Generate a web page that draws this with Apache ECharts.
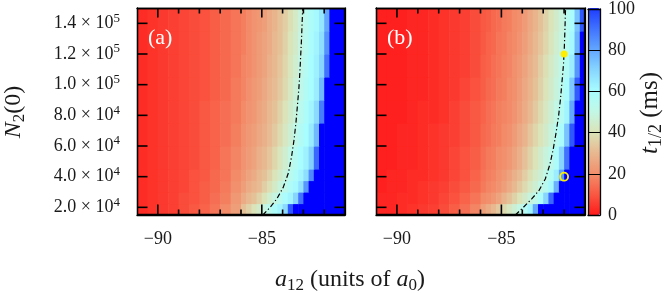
<!DOCTYPE html>
<html><head><meta charset="utf-8">
<script src="https://cdn.jsdelivr.net/npm/echarts@6/dist/echarts.min.js"></script>
<style>html,body{margin:0;padding:0;background:#fff}#c{width:664px;height:293px}</style>
</head><body><div id="c"></div>
<script>
// ---- data ----
const xRange = [-91, -81];
const yRange = [15000, 150000];
const colEdges = [-91,-90.5,-90,-89.5,-89,-88.5,-88,-87.5,-87,-86.5,-86,
  -85.75,-85.5,-85.25,-85,-84.75,-84.5,-84.25,-84,-83.75,-83.5,-83.25,-83,-82.75,-82.5,-82.25,-82,-81.75,-81.5,-81.25,-81];
const rowEdges = [15000,22500,30000,37500,45000,60000,75000,90000,105000,120000,135000,150000];
// t1/2 (ms), rows from bottom to top; >100 shown as saturated blue
const tHalfA = [
  [3,4,5,6,8,10,12,15,19,24, 32,36,40,44,49,53,58,62,69,95, 120,120,120,120,120,120,120,120,120,120],
  [3,4,5,6,8,9,11,14,17,22, 27,30,32,36,40,45,49,54,59,62, 70,90,120,120,120,120,120,120,120,120],
  [3,4,5,6,7,9,11,13,16,20, 24,27,29,31,35,39,43,48,52,57, 61,67,83,110,120,120,120,120,120,120],
  [3,4,5,6,7,9,10,13,15,19, 22,25,27,30,32,36,40,44,48,53, 58,62,68,86,112,120,120,120,120,120],
  [3,4,5,6,7,8,10,12,15,18, 21,23,25,28,30,33,37,41,45,50, 55,60,63,71,92,120,120,120,120,120],
  [3,4,5,6,7,8,10,12,14,17, 20,22,24,26,28,31,34,38,42,46, 51,56,60,65,76,100,120,120,120,120],
  [3,4,5,6,7,8,10,12,14,16, 19,21,22,25,27,30,32,36,40,44, 48,53,58,62,69,88,116,120,120,120],
  [3,4,5,6,7,8,9,11,13,16, 18,20,22,24,26,29,31,34,38,42, 47,51,56,60,64,76,100,120,120,120],
  [3,4,5,6,7,8,9,11,13,15, 18,19,21,23,25,28,30,33,37,41, 45,50,55,60,63,70,90,115,120,120],
  [3,4,5,6,7,8,9,11,13,15, 17,19,21,23,25,27,30,32,36,40, 44,49,54,59,62,68,84,108,120,120],
  [3,4,5,6,7,8,9,11,13,15, 17,19,21,22,24,27,29,32,35,39, 43,48,53,58,61,66,80,100,120,120]
];
const tHalfB = [
  [2,2,3,4,5,6,8,11,14,18, 24,27,30,34,38,42,46,50,55,62, 80,105,120,120,120,120,120,120,120,120],
  [2,2,3,3,4,5,7,9,12,15, 19,20,22,25,29,32,36,40,44,48, 52,58,70,92,112,120,120,120,120,120],
  [1,2,2,3,4,5,6,8,10,13, 16,18,19,21,24,27,30,34,38,42, 46,50,54,61,78,103,120,120,120,120],
  [1,2,2,3,3,4,5,7,9,12, 15,17,18,20,22,25,28,31,35,39, 43,46,51,56,64,82,106,120,120,120],
  [1,1,2,2,3,4,5,7,9,11, 14,16,17,19,20,22,25,28,32,36, 40,44,48,52,58,70,90,110,120,120],
  [1,1,2,2,3,4,5,6,8,10, 13,14,16,17,19,20,23,26,29,33, 37,40,44,48,53,59,74,95,112,120],
  [1,1,1,2,3,3,4,6,8,10, 12,14,15,17,18,19,21,24,27,30, 34,38,42,46,50,55,62,80,105,120],
  [1,1,1,2,2,3,4,5,7,9, 11,13,14,16,17,19,20,23,26,29, 32,36,40,44,48,53,59,73,94,112],
  [1,1,1,2,2,3,4,5,6,8, 11,12,14,15,17,18,20,22,25,28, 31,35,39,43,47,51,56,64,83,104],
  [1,1,1,2,2,3,4,5,6,8, 10,12,13,15,16,18,19,21,24,27, 30,33,37,41,45,49,54,61,77,100],
  [1,1,1,2,2,3,4,5,6,8, 10,11,13,14,16,17,19,20,23,26, 29,32,36,40,44,48,53,59,74,95]
];
const contourAX = [-84.95,-84.6,-84.28,-83.97,-83.72,-83.57,-83.45,-83.36,-83.29,-83.22,-83.17,-83.13,-83.09,-83.06,-83.03];
const contourAN = [15000,20000,25500,33000,42500,53000,64000,75000,86000,97000,108000,119000,130000,141000,150000];
const contourBX = [-84.33,-83.95,-83.55,-83.2,-82.9,-82.68,-82.52,-82.38,-82.26,-82.17,-82.1,-82.03,-81.99,-81.96,-81.93];
const contourBN = [15000,20000,25500,31000,38500,48000,58000,69000,80000,91000,102000,113000,124000,136000,150000];
const markFilled = [-82, 120000];
const markOpen = [-82, 40000];
const yTicks = [20000,40000,60000,80000,100000,120000,140000];
const xMinor = [-90,-89,-88,-87,-86,-85,-84,-83,-82];
const xMajor = [-90,-85];
const cbTicks = [0,20,40,60,80,100];
const paletteColors = ['#ff1a1a','#f95842','#f28f6c','#e8b890','#dbe3b8','#c2f7e6','#a8fdff','#88d6ff','#62a6ff','#4072ff','#1e3cff'];

// ---- chart ----
const FONT = 'Liberation Serif';
const TXT = '#1a1a1a';
function cells(g){
  const out=[];
  for(let r=0;r<rowEdges.length-1;r++) for(let c=0;c<colEdges.length-1;c++)
    out.push([colEdges[c],colEdges[c+1],rowEdges[r],rowEdges[r+1],g[r][c]]);
  return out;
}
function pairs(xs,ys){return xs.map((x,i)=>[x,ys[i]]);}
const frame = {show:true,onZero:false,lineStyle:{color:'#000',width:1.3}};
function panelX(g){
  const base={gridIndex:g,type:'value',min:xRange[0],max:xRange[1],interval:1,z:5,splitLine:{show:false},axisTick:{show:false},axisLine:frame};
  return [
    Object.assign({},base,{position:'bottom',
      axisLabel:{show:true,margin:15,color:TXT,fontFamily:FONT,fontSize:18,
        formatter:v=>xMajor.indexOf(v)>=0?'\u2212'+Math.abs(v):''}}),
    Object.assign({},base,{position:'top',axisLabel:{show:false}})
  ];
}
function panelY(g,labels){
  const base={gridIndex:g,type:'value',min:yRange[0],max:yRange[1],z:5,splitLine:{show:false},axisTick:{show:false},axisLine:frame};
  return [
    Object.assign({},base,{position:'left',
      axisLabel:{show:labels,customValues:yTicks,margin:17,
        formatter:v=>{const e=Math.round(Math.log10(v)-0.5);const m=(v/Math.pow(10,e)).toFixed(1);return '{b|'+m+' \u00d7 10}{s|'+e+'}';},
        rich:{b:{fontFamily:FONT,fontSize:18,color:TXT,lineHeight:23,verticalAlign:'middle'},
              s:{fontFamily:FONT,fontSize:13,color:TXT,verticalAlign:'top'}}}}),
    Object.assign({},base,{position:'right',axisLabel:{show:false}})
  ];
}
// map cells; the last cell also carries the panel frame and inward ticks (placed via the axis scales)
function heat(xi,yi,g){
  const data=cells(g), last=data.length-1;
  return {type:'custom',xAxisIndex:xi,yAxisIndex:yi,silent:true,z:1,
    dimensions:['x0','x1','y0','y1','t'],encode:{x:[0,1],y:[2,3]},
    data:data,
    renderItem:(params,api)=>{
      const p0=api.coord([api.value(0),api.value(3)]);
      const p1=api.coord([api.value(1),api.value(2)]);
      const cell={type:'rect',shape:{x:p0[0],y:p0[1],width:p1[0]-p0[0]+0.6,height:p1[1]-p0[1]+0.6},
        style:{fill:api.visual('color')}};
      if(params.dataIndex!==last) return cell;
      const tl=api.coord([xRange[0],yRange[1]]), br=api.coord([xRange[1],yRange[0]]);
      const L=tl[0]+0.5, T=tl[1]+0.5, R=br[0]-0.5, B=br[1]-0.5;
      const st={stroke:'#000',lineWidth:1.6,fill:null};
      const kids=[cell,{type:'rect',z2:100,shape:{x:L,y:T,width:R-L,height:B-T},style:{fill:null,stroke:'#000',lineWidth:1.3}}];
      xMinor.forEach(v=>{
        const maj=xMajor.indexOf(v)>=0, lb=maj?10:5, lt=maj?9:5;
        const x=api.coord([v,yRange[0]])[0];
        kids.push({type:'line',z2:100,shape:{x1:x,y1:B,x2:x,y2:B-lb},style:st});
        kids.push({type:'line',z2:100,shape:{x1:x,y1:T,x2:x,y2:T+lt},style:st});
      });
      yTicks.forEach(v=>{
        const y=api.coord([xRange[0],v])[1];
        kids.push({type:'line',z2:100,shape:{x1:L,y1:y,x2:L+10,y2:y},style:st});
        kids.push({type:'line',z2:100,shape:{x1:R,y1:y,x2:R-10,y2:y},style:st});
      });
      return {type:'group',children:kids};
    }};
}
const dashDot=[5,2.5,1.2,2.5];
const rich=(fs,ss)=>({
  i:{fontFamily:FONT,fontStyle:'italic',fontSize:fs,lineHeight:fs+5,fill:TXT,verticalAlign:'middle'},
  n:{fontFamily:FONT,fontSize:fs,lineHeight:fs+5,fill:TXT,verticalAlign:'middle'},
  s:{fontFamily:FONT,fontSize:ss,fill:TXT,verticalAlign:'bottom'}});
const option={
  animation:false,
  grid:[
    {left:137,top:8,width:208,height:207},
    {left:376,top:8,width:209,height:207},
    {left:588,top:8,width:12,height:207}
  ],
  xAxis:[].concat(panelX(0),panelX(1),[
    {gridIndex:2,type:'value',min:0,max:1,position:'bottom',z:10,axisLine:frame,axisTick:{show:false},axisLabel:{show:false},splitLine:{show:false}},
    {gridIndex:2,type:'value',min:0,max:1,position:'top',z:10,axisLine:frame,axisTick:{show:false},axisLabel:{show:false},splitLine:{show:false}}
  ]),
  yAxis:[].concat(panelY(0,true),panelY(1,false),[
    {gridIndex:2,type:'value',min:0,max:100,interval:20,position:'right',z:10,
      axisLine:frame,axisTick:{show:false},
      axisLabel:{show:true,margin:8,color:TXT,fontFamily:FONT,fontSize:18,customValues:cbTicks},
      splitLine:{show:true,lineStyle:{color:'#000',width:1}}},
    {gridIndex:2,type:'value',min:0,max:100,position:'left',z:10,
      axisLine:frame,axisTick:{show:false},axisLabel:{show:false},splitLine:{show:false}}
  ]),
  visualMap:{type:'continuous',min:0,max:100,range:[0,99.9],dimension:4,seriesIndex:[0,1],
    inRange:{color:paletteColors},outOfRange:{color:'#0000ff'},
    calculable:false,hoverLink:false,orient:'vertical',left:588,top:8,itemWidth:12,itemHeight:207,
    padding:0,text:null,textGap:0,z:4},
  series:[
    heat(0,0,tHalfA),
    heat(2,2,tHalfB),
    {type:'line',xAxisIndex:0,yAxisIndex:0,data:pairs(contourAX,contourAN),symbol:'none',silent:true,z:3,
      lineStyle:{color:'#000',width:1.2,type:dashDot}},
    {type:'line',xAxisIndex:2,yAxisIndex:2,data:pairs(contourBX,contourBN),symbol:'none',silent:true,z:3,
      lineStyle:{color:'#000',width:1.2,type:dashDot}},
    {type:'scatter',xAxisIndex:2,yAxisIndex:2,data:[markFilled],symbol:'circle',symbolSize:7,silent:true,z:4,
      itemStyle:{color:'#ffee00',opacity:1}},
    {type:'scatter',xAxisIndex:2,yAxisIndex:2,data:[markOpen],symbol:'circle',symbolSize:8,silent:true,z:4,
      itemStyle:{color:'rgba(0,0,0,0)',borderColor:'#ffee00',borderWidth:1.8,opacity:1}}
  ],
  graphic:[
    {type:'text',left:148,top:27,z:20,style:{text:'(a)',fill:'#fff',font:'22px "Liberation Serif"'}},
    {type:'text',left:387,top:27,z:20,style:{text:'(b)',fill:'#fff',font:'22px "Liberation Serif"'}},
    {type:'text',x:14,y:112,rotation:Math.PI/2,z:20,style:{text:'{i|N}{s|2}{n|(0)}',align:'center',verticalAlign:'middle',rich:rich(24,17)}},
    {type:'text',x:350,y:280,z:20,style:{text:'{i|a}{s|12}{n| (units of }{i|a}{s|0}{n|)}',align:'center',verticalAlign:'middle',rich:rich(24,17)}},
    {type:'text',x:650,y:113,rotation:Math.PI/2,z:20,style:{text:'{i|t}{s|1/2}{n| (ms)}',align:'center',verticalAlign:'middle',rich:rich(25,18)}}
  ]
};
const chart=echarts.init(document.getElementById('c'),null,{renderer:'canvas'});
chart.setOption(option);
</script></body></html>
